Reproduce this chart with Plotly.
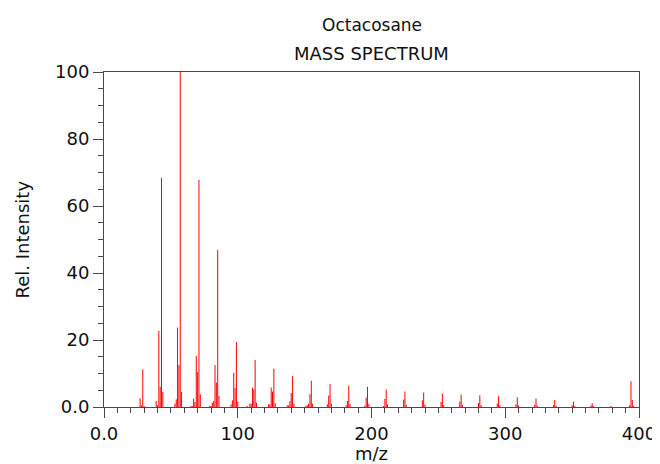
import plotly.graph_objects as go

# m/z values and relative intensities
mz = [27, 28, 29, 30, 39, 40, 41, 42, 43, 44,
      53, 54, 55, 56, 57, 58, 65, 66, 67, 68, 69, 70, 71, 72,
      79, 80, 81, 82, 83, 84, 85, 86, 95, 96, 97, 98, 99, 100,
      107, 109, 110, 111, 112, 113, 114, 123, 124, 125, 126, 127, 128,
      137, 138, 139, 140, 141, 142, 151, 152, 153, 154, 155, 156,
      167, 168, 169, 170, 181, 182, 183, 184, 195, 196, 197, 198,
      209, 210, 211, 212, 224, 225, 226, 238, 239, 240,
      252, 253, 254, 266, 267, 268, 280, 281, 282, 294, 295, 296,
      308, 309, 310, 322, 323, 324, 336, 337, 338, 350, 351, 352,
      364, 365, 366, 379, 393, 394, 395, 396]
intensity = [2.6, 0.5, 11.2, 0.3, 1.8, 0.5, 22.7, 6.0, 68.4, 4.5,
             1.0, 2.3, 23.7, 12.5, 100.0, 4.5, 0.3, 0.3, 2.5, 1.5, 15.2, 10.4, 67.8, 3.8,
             0.3, 0.3, 1.3, 1.8, 12.5, 7.3, 46.9, 3.3, 0.8, 2.0, 10.2, 5.7, 19.4, 1.6,
             0.3, 1.0, 1.0, 5.8, 5.3, 14.0, 1.3, 0.8, 0.8, 5.8, 4.6, 11.4, 1.1,
             0.5, 0.5, 1.8, 4.2, 9.2, 1.0, 0.3, 0.5, 1.0, 3.8, 7.8, 1.0,
             0.8, 3.4, 6.9, 1.0, 0.5, 1.8, 6.3, 0.9, 0.4, 2.8, 6.0, 0.9,
             0.3, 2.4, 5.2, 0.8, 2.2, 4.6, 0.7, 2.0, 4.3, 0.7,
             1.5, 4.0, 0.6, 1.6, 3.7, 0.6, 1.2, 3.5, 0.6, 1.0, 3.2, 0.5,
             0.8, 2.9, 0.5, 0.7, 2.5, 0.4, 0.6, 2.1, 0.4, 0.5, 1.6, 0.3,
             0.4, 1.1, 0.3, 0.3, 0.5, 7.7, 2.1, 0.4]

title_lines = ["Octacosane", "MASS SPECTRUM"]
x_title = "m/z"
y_title = "Rel. Intensity"
x_ticks = [0, 100, 200, 300, 400]
x_tick_text = ["0.0", "100", "200", "300", "400"]
y_ticks = [0, 20, 40, 60, 80, 100]
y_tick_text = ["0.0", "20", "40", "60", "80", "100"]

# build stick segments
xs, ys = [], []
for m, v in zip(mz, intensity):
    xs += [m, m, None]
    ys += [0, v, None]

FONT = "DejaVu Sans"
FS = 18
TXT = "#111111"
AXIS_COLOR = "#4a4a4a"

fig = go.Figure()
fig.add_trace(go.Scatter(x=xs, y=ys, mode="lines",
                         line=dict(color="#ff0000", width=1),
                         hoverinfo="skip", showlegend=False))

def ann(text, x, y, xshift=0, yshift=0, angle=0, size=FS):
    return dict(text=text, xref="paper", yref="paper", x=x, y=y,
                xshift=xshift, yshift=yshift, textangle=angle,
                xanchor="center", yanchor="middle", showarrow=False,
                font=dict(family=FONT, size=size, color=TXT))

# the page body has an 8px margin, so the figure is sized to fit the window
fig.update_layout(
    width=652, height=456,
    margin=dict(l=96, r=21, t=64, b=57, autoexpand=False),
    paper_bgcolor="white", plot_bgcolor="white",
    font=dict(family=FONT, size=FS, color=TXT),
    showlegend=False,
    annotations=[
        ann(title_lines[0], 0.5, 1, yshift=47, size=17),
        ann(title_lines[1], 0.5, 1, yshift=19),
        ann(x_title, 0.5, 0, yshift=-46),
        ann(y_title, 0, 0.5, xshift=-82, angle=-90),
    ],
)
fig.update_xaxes(
    range=[0, 400], showgrid=False, zeroline=False, automargin=False,
    showline=True, linecolor=AXIS_COLOR, linewidth=1, mirror=True,
    ticks="outside", ticklen=10, tickcolor=AXIS_COLOR,
    tickvals=x_ticks, ticktext=x_tick_text,
    minor=dict(ticks="outside", ticklen=5, dtick=10, tick0=0, tickcolor=AXIS_COLOR, showgrid=False),
)
fig.update_yaxes(
    range=[0, 100], showgrid=False, zeroline=False, automargin=False,
    showline=True, linecolor=AXIS_COLOR, linewidth=1, mirror=True,
    ticks="outside", ticklen=10, tickcolor=AXIS_COLOR,
    tickvals=y_ticks, ticktext=y_tick_text,
    minor=dict(ticks="outside", ticklen=5, dtick=5, tick0=0, tickcolor=AXIS_COLOR, showgrid=False),
)

fig.write_html("out.html")
